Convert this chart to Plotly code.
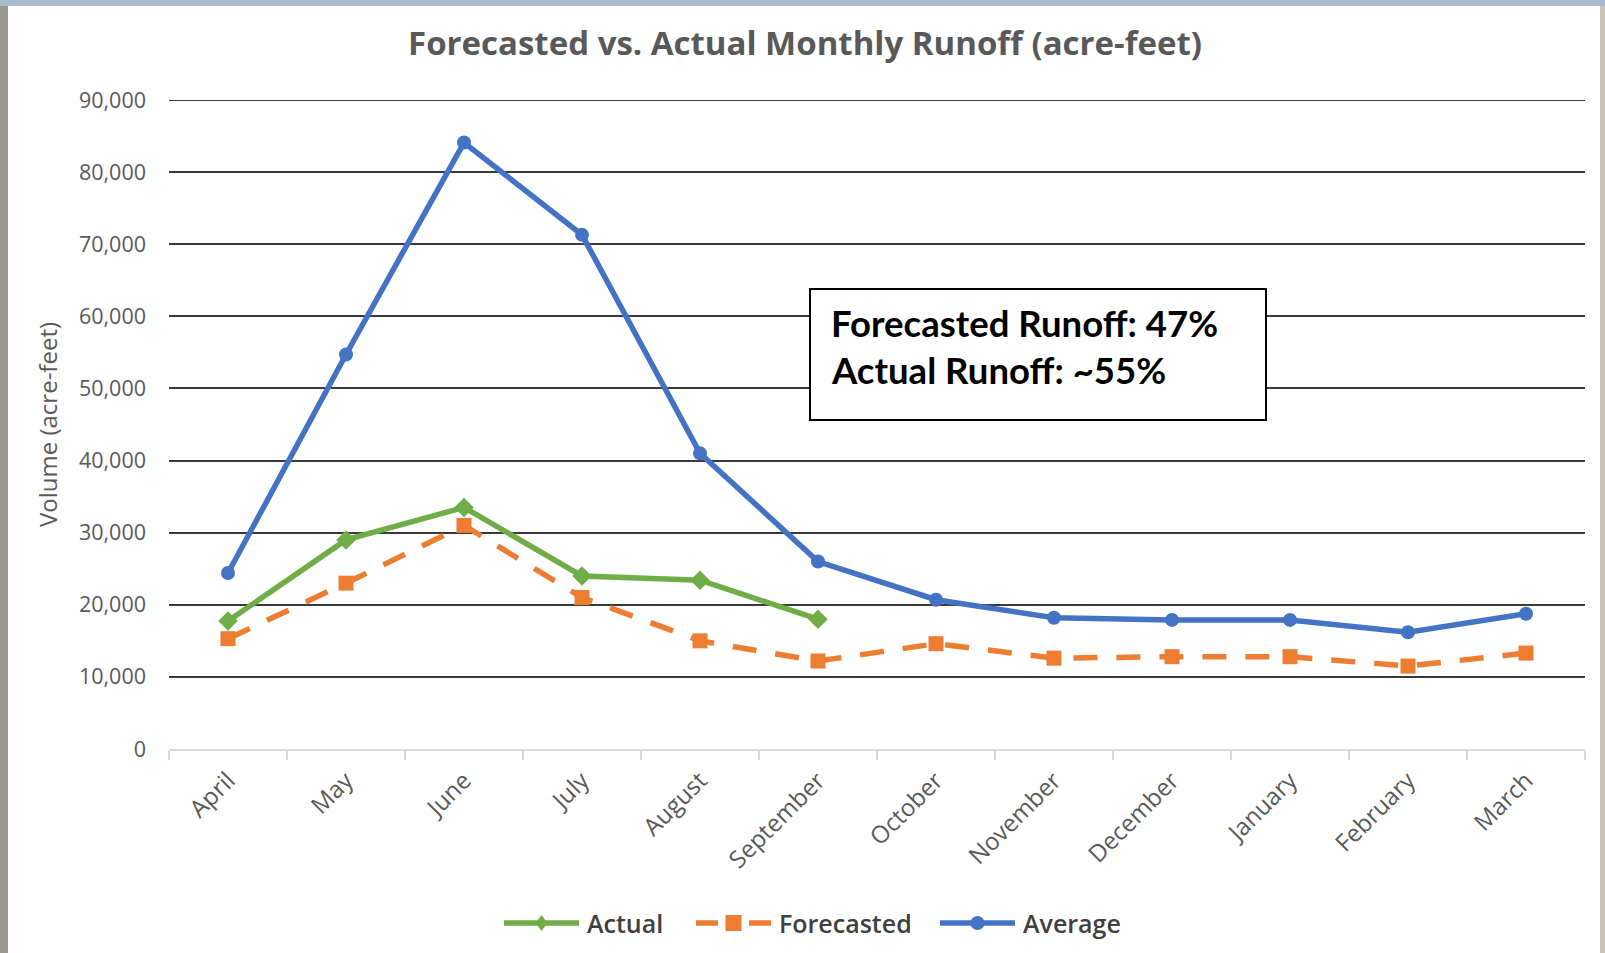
import plotly.graph_objects as go

months = ["April", "May", "June", "July", "August", "September", "October",
          "November", "December", "January", "February", "March"]
actual = [17750, 29000, 33500, 24000, 23400, 18000]
forecasted = [15300, 23000, 31000, 21000, 15000, 12200, 14600, 12600, 12800, 12800, 11500, 13300]
average = [24400, 54700, 84100, 71300, 41000, 26000, 20700, 18200, 17900, 17900, 16200, 18750]
y_ticks = [0, 10000, 20000, 30000, 40000, 50000, 60000, 70000, 80000, 90000]
note_lines = ["Forecasted Runoff: 47%", "Actual Runoff: ~55%"]
series_names = ["Actual", "Forecasted", "Average"]
series_colors = ["#70AD47", "#ED7D31", "#4472C4"]

W, H = 1605, 953
L, R, T, B = 169, 20, 100, 204
PW, PH = W - L - R, H - T - B


def px(x):
    return (x - L) / PW


def py(y):
    return (H - B - y) / PH


LW = 5.5
fig = go.Figure()
fig.add_trace(go.Scatter(
    x=months[:len(actual)], y=actual, name=series_names[0], mode="lines+markers",
    line=dict(color=series_colors[0], width=LW),
    marker=dict(symbol="diamond", size=15, color=series_colors[0])))
fig.add_trace(go.Scatter(
    x=months, y=forecasted, name=series_names[1], mode="lines+markers",
    line=dict(color=series_colors[1], width=LW, dash="24px,19px"),
    marker=dict(symbol="square", size=15, color=series_colors[1])))
fig.add_trace(go.Scatter(
    x=months, y=average, name=series_names[2], mode="lines+markers",
    line=dict(color=series_colors[2], width=LW),
    marker=dict(symbol="circle", size=14, color=series_colors[2])))

fig.update_layout(
    width=W, height=H,
    paper_bgcolor="white", plot_bgcolor="white",
    margin=dict(l=L, r=R, t=T, b=B),
    title=dict(text="<b>Forecasted vs. Actual Monthly Runoff (acre-feet)</b>",
               x=805 / W, xanchor="center", y=1 - 43 / H, yanchor="middle",
               font=dict(family="Open Sans", size=33, color="#595959")),
    showlegend=False,
    font=dict(family="Open Sans", color="#595959"),
)

fig.update_xaxes(
    type="category", categoryorder="array", categoryarray=months,
    tickangle=-45, tickfont=dict(family="Open Sans", size=24, color="#595959"),
    showgrid=False, showline=True, linecolor="#d9d9d9", linewidth=2,
    ticks="outside", tickson="boundaries", ticklen=9, tickcolor="#d9d9d9", tickwidth=2,
    ticklabelstandoff=6,
    range=[-0.5, len(months) - 0.5])
fig.update_yaxes(
    range=[0, 90000], tickvals=y_ticks, tickformat=",",
    tickfont=dict(family="Open Sans", size=21.5, color="#595959"),
    showgrid=True, gridcolor="#3a3a3a", gridwidth=2,
    zeroline=False, showline=False, ticks="", ticklabelstandoff=22,
    title=dict(text="Volume (acre-feet)", standoff=14,
               font=dict(family="Open Sans", size=24, color="#595959")))

# top gridline (90,000) sits on the plot edge; draw it explicitly
fig.add_shape(type="line", xref="paper", yref="y", x0=0, x1=1, y0=y_ticks[-1], y1=y_ticks[-1],
              line=dict(color="#3a3a3a", width=2), layer="below")

# annotation box
fig.add_shape(type="rect", xref="paper", yref="paper",
              x0=px(810), x1=px(1266), y0=py(420), y1=py(289),
              line=dict(color="black", width=2), fillcolor="white", layer="above")
for i, txt in enumerate(note_lines):
    fig.add_annotation(text="<b>" + txt + "</b>", xref="paper", yref="paper",
                       x=px(829), xanchor="left", y=py(323 + 47 * i), yanchor="middle",
                       showarrow=False, align="left",
                       font=dict(family="Lato", size=36.5, color="black"))

# legend (drawn manually to reproduce the long legend keys)
leg_y = 923
leg_x0 = [504, 696, 940]
leg_len = 75
for i, (name, col) in enumerate(zip(series_names, series_colors)):
    x0 = leg_x0[i]
    xm = x0 + leg_len / 2
    if i == 1:
        fig.add_shape(type="line", xref="paper", yref="paper", x0=px(x0), x1=px(x0 + 22),
                      y0=py(leg_y), y1=py(leg_y), line=dict(color=col, width=LW))
        fig.add_shape(type="line", xref="paper", yref="paper", x0=px(x0 + 53), x1=px(x0 + leg_len),
                      y0=py(leg_y), y1=py(leg_y), line=dict(color=col, width=LW))
        fig.add_shape(type="rect", xref="paper", yref="paper", x0=px(xm - 8), x1=px(xm + 8),
                      y0=py(leg_y + 8), y1=py(leg_y - 8), line=dict(width=0), fillcolor=col)
    else:
        fig.add_shape(type="line", xref="paper", yref="paper", x0=px(x0), x1=px(x0 + leg_len),
                      y0=py(leg_y), y1=py(leg_y), line=dict(color=col, width=LW))
        if i == 0:
            path = "M {a},{b} L {c},{d} L {a},{e} L {f},{d} Z".format(
                a=px(xm), b=py(leg_y - 8), c=px(xm + 6), d=py(leg_y), e=py(leg_y + 8), f=px(xm - 6))
            fig.add_shape(type="path", xref="paper", yref="paper", path=path,
                          line=dict(width=0), fillcolor=col)
        else:
            fig.add_shape(type="circle", xref="paper", yref="paper", x0=px(xm - 7), x1=px(xm + 7),
                          y0=py(leg_y + 7), y1=py(leg_y - 7), line=dict(width=0), fillcolor=col)
    fig.add_annotation(text=name, xref="paper", yref="paper",
                       x=px(x0 + leg_len + 6), xanchor="left", y=py(leg_y), yanchor="middle",
                       showarrow=False,
                       font=dict(family="Open Sans", size=25, color="#404040", weight=600))

# textured frame edges (approximation of background photo border)
fig.add_shape(type="rect", xref="paper", yref="paper", x0=px(0), x1=px(8),
              y0=py(H), y1=py(0), line=dict(width=0), fillcolor="#9a9790", layer="below")
fig.add_shape(type="rect", xref="paper", yref="paper", x0=px(W - 5), x1=px(W),
              y0=py(H), y1=py(0), line=dict(width=0), fillcolor="#c9c4b8", layer="below")
fig.add_shape(type="rect", xref="paper", yref="paper", x0=px(0), x1=px(W),
              y0=py(6), y1=py(0), line=dict(width=0), fillcolor="#a9b9cf", layer="below")

fig.write_html("out.html", config={"displayModeBar": False},
               post_script="document.body.style.margin='0';")
